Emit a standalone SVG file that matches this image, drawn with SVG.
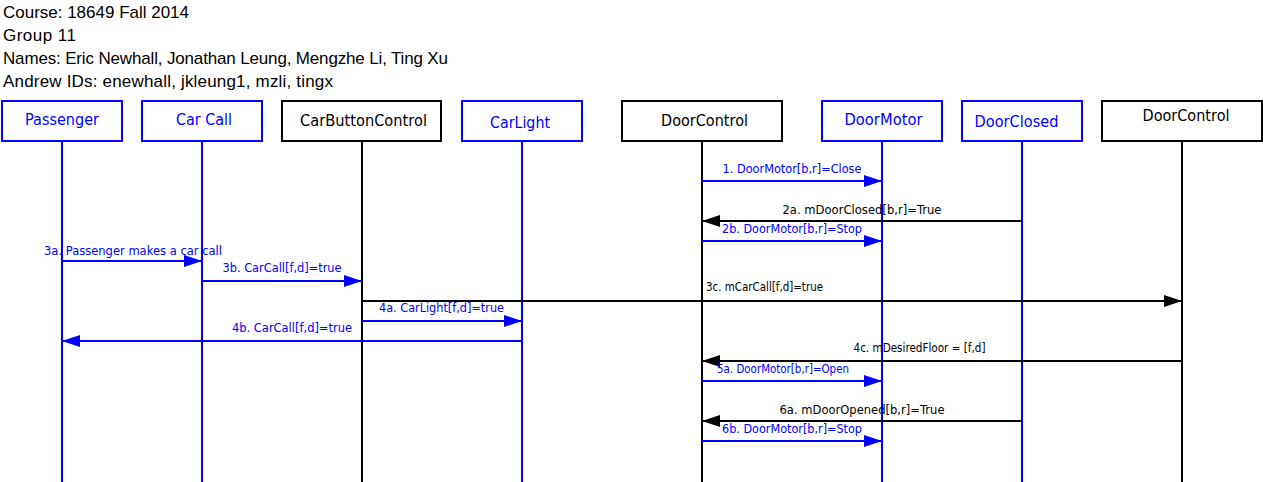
<svg xmlns="http://www.w3.org/2000/svg" width="1263" height="482" viewBox="0 0 1263 482">
<style>
.hdr{font-family:"Liberation Sans",Arial,sans-serif;font-size:17px;fill:#000}
.box{fill:#fff;stroke-width:2}
.bb{stroke:#0000ff}
.bk{stroke:#000}
.lbl{font-family:"DejaVu Sans",Verdana,sans-serif;font-size:15.5px}
.msg{font-family:"DejaVu Sans",Verdana,sans-serif;font-size:12px}
.tb{fill:#0000ff}
.tk{fill:#000}
.life{stroke-width:2;fill:none}
.ab{stroke:#0000ff;stroke-width:2;fill:none;marker-end:url(#hb)}
.ak{stroke:#000;stroke-width:2;fill:none;marker-end:url(#hk)}
</style>
<defs>
<marker id="hb" markerUnits="userSpaceOnUse" markerWidth="18" markerHeight="12" refX="18" refY="6" orient="auto"><path d="M0,0 L18,6 L0,12 z" fill="#0000ff"/></marker>
<marker id="hk" markerUnits="userSpaceOnUse" markerWidth="18" markerHeight="12" refX="18" refY="6" orient="auto"><path d="M0,0 L18,6 L0,12 z" fill="#000"/></marker>
</defs>
<rect width="1263" height="482" fill="#fff"/>
<g id="header">
<text class="hdr" x="3" y="18" textLength="186">Course: 18649 Fall 2014</text>
<text class="hdr" x="3" y="41" textLength="73">Group 11</text>
<text class="hdr" x="3" y="64" textLength="445">Names: Eric Newhall, Jonathan Leung, Mengzhe Li, Ting Xu</text>
<text class="hdr" x="3" y="87" textLength="330">Andrew IDs: enewhall, jkleung1, mzli, tingx</text>
</g>
<g id="passenger">
<line class="life bb" x1="62" y1="141" x2="62" y2="482"/>
<rect class="box bb" x="2" y="101" width="120" height="40"/>
<text class="lbl tb" x="25" y="125" textLength="74" lengthAdjust="spacingAndGlyphs">Passenger</text>
</g>
<g id="carcall">
<line class="life bb" x1="202" y1="141" x2="202" y2="482"/>
<rect class="box bb" x="142" y="101" width="120" height="40"/>
<text class="lbl tb" x="176" y="125" textLength="56" lengthAdjust="spacingAndGlyphs">Car Call</text>
</g>
<g id="carbuttoncontrol">
<line class="life bk" x1="362" y1="141" x2="362" y2="482"/>
<rect class="box bk" x="282" y="101" width="159" height="40"/>
<text class="lbl tk" x="300" y="125.5" textLength="127" lengthAdjust="spacingAndGlyphs">CarButtonControl</text>
</g>
<g id="carlight">
<line class="life bb" x1="522" y1="141" x2="522" y2="482"/>
<rect class="box bb" x="462" y="101" width="120" height="40"/>
<text class="lbl tb" x="490" y="127.5" textLength="60" lengthAdjust="spacingAndGlyphs">CarLight</text>
</g>
<g id="doorcontrol">
<line class="life bk" x1="702" y1="141" x2="702" y2="482"/>
<rect class="box bk" x="622" y="101" width="160" height="40"/>
<text class="lbl tk" x="661" y="125.5" textLength="87" lengthAdjust="spacingAndGlyphs">DoorControl</text>
</g>
<g id="doormotor">
<line class="life bb" x1="882" y1="141" x2="882" y2="482"/>
<rect class="box bb" x="822" y="101" width="120" height="40"/>
<text class="lbl tb" x="844.5" y="125" textLength="78" lengthAdjust="spacingAndGlyphs">DoorMotor</text>
</g>
<g id="doorclosed">
<line class="life bb" x1="1022" y1="141" x2="1022" y2="482"/>
<rect class="box bb" x="962" y="101" width="120" height="40"/>
<text class="lbl tb" x="974.5" y="126.5" textLength="84" lengthAdjust="spacingAndGlyphs">DoorClosed</text>
</g>
<g id="doorcontrol2">
<line class="life bk" x1="1182" y1="141" x2="1182" y2="482"/>
<rect class="box bk" x="1102" y="101" width="160" height="40"/>
<text class="lbl tk" x="1142.5" y="120.5" textLength="87" lengthAdjust="spacingAndGlyphs">DoorControl</text>
</g>
<g id="connectors">
<line class="ab" x1="702" y1="181" x2="882" y2="181"/>
<text class="msg tb" x="722.5" y="173" textLength="139" lengthAdjust="spacingAndGlyphs">1. DoorMotor[b,r]=Close</text>
<line class="ak" x1="1022" y1="221" x2="702" y2="221"/>
<text class="msg tk" x="782.5" y="213.5" textLength="159" lengthAdjust="spacingAndGlyphs">2a. mDoorClosed[b,r]=True</text>
<line class="ab" x1="702" y1="241" x2="882" y2="241"/>
<text class="msg tb" x="722" y="232.5" textLength="140" lengthAdjust="spacingAndGlyphs">2b. DoorMotor[b,r]=Stop</text>
<line class="ab" x1="62" y1="261" x2="202" y2="261"/>
<text class="msg tb" x="44" y="255" textLength="178" lengthAdjust="spacingAndGlyphs">3a. Passenger makes a car call</text>
<line class="ab" x1="202" y1="281" x2="362" y2="281"/>
<text class="msg tb" x="222.5" y="272" textLength="119" lengthAdjust="spacingAndGlyphs">3b. CarCall[f,d]=true</text>
<line class="ak" x1="362" y1="301" x2="1182" y2="301"/>
<text class="msg tk" x="706" y="291" textLength="117" lengthAdjust="spacingAndGlyphs">3c. mCarCall[f,d]=true</text>
<line class="ab" x1="362" y1="321" x2="522" y2="321"/>
<text class="msg tb" x="379" y="312" textLength="125" lengthAdjust="spacingAndGlyphs">4a. CarLight[f,d]=true</text>
<line class="ab" x1="522" y1="341" x2="62" y2="341"/>
<text class="msg tb" x="232" y="331.5" textLength="120" lengthAdjust="spacingAndGlyphs">4b. CarCall[f,d]=true</text>
<line class="ak" x1="1182" y1="361" x2="702" y2="361"/>
<text class="msg tk" x="853.5" y="352" textLength="132" lengthAdjust="spacingAndGlyphs">4c. mDesiredFloor = [f,d]</text>
<line class="ab" x1="702" y1="381" x2="882" y2="381"/>
<text class="msg tb" x="717" y="372.5" textLength="132" lengthAdjust="spacingAndGlyphs">5a. DoorMotor[b,r]=Open</text>
<line class="ak" x1="1022" y1="421" x2="702" y2="421"/>
<text class="msg tk" x="779.5" y="413.5" textLength="165" lengthAdjust="spacingAndGlyphs">6a. mDoorOpened[b,r]=True</text>
<line class="ab" x1="702" y1="441" x2="882" y2="441"/>
<text class="msg tb" x="722" y="433" textLength="140" lengthAdjust="spacingAndGlyphs">6b. DoorMotor[b,r]=Stop</text>
</g>
</svg>
